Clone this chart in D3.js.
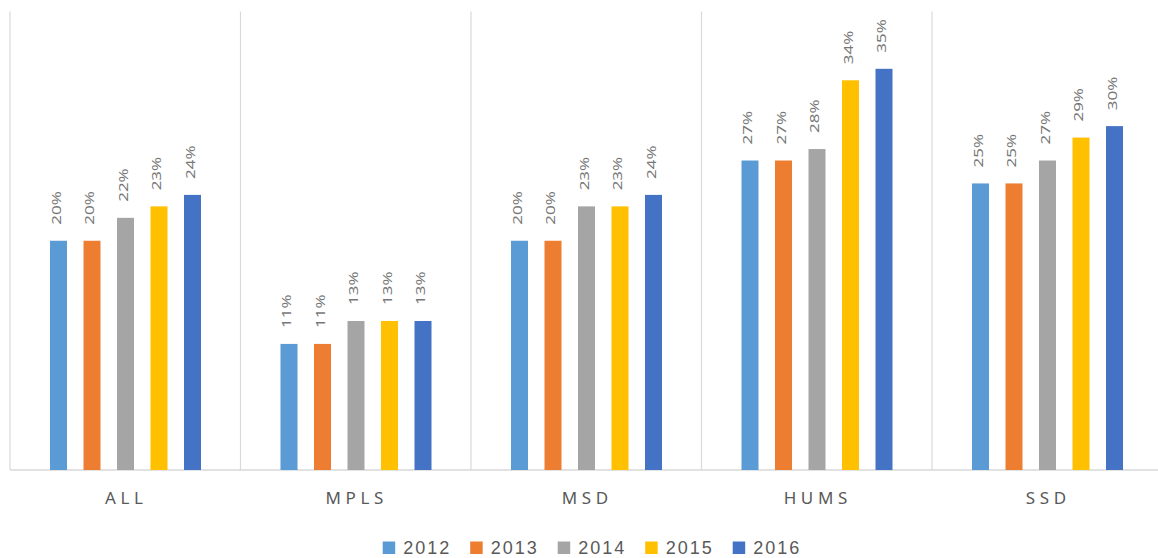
<!DOCTYPE html>
<html>
<head>
<meta charset="utf-8">
<script src="https://cdn.jsdelivr.net/npm/d3@7"></script>
<style>
  html, body { margin: 0; padding: 0; background: #fff; }
  svg { display: block; }
</style>
</head>
<body>
<svg id="chart" width="1158" height="558"></svg>
<script>
const categories = ["ALL", "MPLS", "MSD", "HUMS", "SSD"];
const years = ["2012", "2013", "2014", "2015", "2016"];
const values2012 = [20, 11, 20, 27, 25];
const values2013 = [20, 11, 20, 27, 25];
const values2014 = [22, 13, 23, 28, 27];
const values2015 = [23, 13, 23, 34, 29];
const values2016 = [24, 13, 24, 35, 30];
const seriesValues = [values2012, values2013, values2014, values2015, values2016];
const colors = ["#5B9BD5", "#ED7D31", "#A5A5A5", "#FFC000", "#4472C4"];

const svg = d3.select("#chart");
const plotLeft = 10, plotRight = 1162.5, plotTop = 11.5, plotBottom = 470;

const x0 = d3.scaleBand().domain(categories).range([plotLeft, plotRight]).padding(0);
const x1 = d3.scaleBand().domain(years).range([40, 191]).paddingInner(0.4925).paddingOuter(0);
const y = d3.scaleLinear().domain([0, 40]).range([plotBottom, plotTop]);

// category dividers
const dividers = categories.map(c => x0(c)).concat([plotRight]);
svg.append("g").selectAll("line").data(dividers).join("line")
  .attr("x1", d => d).attr("x2", d => d)
  .attr("y1", plotTop).attr("y2", plotBottom)
  .attr("stroke", "#D9D9D9").attr("stroke-width", 1.2);

// baseline
svg.append("line")
  .attr("x1", plotLeft).attr("x2", plotRight)
  .attr("y1", plotBottom).attr("y2", plotBottom)
  .attr("stroke", "#D9D9D9").attr("stroke-width", 1.5);

const data = [];
categories.forEach((c, i) => {
  years.forEach((yr, j) => {
    data.push({ cat: c, year: yr, value: seriesValues[j][i], color: colors[j] });
  });
});

svg.append("g").selectAll("rect").data(data).join("rect")
  .attr("x", d => x0(d.cat) + x1(d.year))
  .attr("y", d => y(d.value))
  .attr("width", x1.bandwidth())
  .attr("height", d => plotBottom - y(d.value))
  .attr("fill", d => d.color);

// data labels
svg.append("g").selectAll("text").data(data).join("text")
  .attr("transform", d => {
    const cx = x0(d.cat) + x1(d.year) + x1.bandwidth() / 2 - 3;
    const cy = y(d.value) - 16;
    return `translate(${cx},${cy}) rotate(-90) scale(1.26,1)`;
  })
  .attr("text-anchor", "start")
  .attr("dominant-baseline", "central")
  .attr("font-family", "'Noto Sans', 'Open Sans', sans-serif")
  .attr("font-size", "13.5px")
  .attr("fill", "#777777")
  .text(d => d.value + "%");

// category axis labels
svg.append("g").selectAll("text").data(categories).join("text")
  .attr("x", d => x0(d) + x0.bandwidth() / 2 + 1)
  .attr("y", 504)
  .attr("text-anchor", "middle")
  .attr("font-family", "'Noto Sans', 'Open Sans', sans-serif")
  .attr("font-size", "17px")
  .attr("letter-spacing", "4.6px")
  .attr("fill", "#595959")
  .text(d => d);

// legend
const legendX = d3.scalePoint().domain(years).range([382.7, 732.7]);
const lg = svg.append("g").selectAll("g").data(years).join("g")
  .attr("transform", d => `translate(${legendX(d)},541.5)`);
lg.append("rect").attr("width", 12.5).attr("height", 12.5)
  .attr("fill", (d, i) => colors[i]);
lg.append("text")
  .attr("x", 20.5).attr("y", 12.5)
  .attr("font-family", "'Liberation Sans', Arial, sans-serif")
  .attr("font-size", "18px")
  .attr("letter-spacing", "2px")
  .attr("fill", "#595959")
  .text(d => d);
</script>
</body>
</html>
